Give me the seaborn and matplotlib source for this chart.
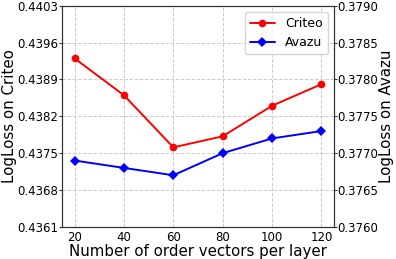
import matplotlib
matplotlib.use('Agg')
import matplotlib.pyplot as plt
import seaborn as sns
import pandas as pd

# data
num_vectors = [20, 40, 60, 80, 100, 120]
criteo_logloss = [0.4393, 0.4386, 0.43761, 0.43782, 0.4384, 0.43881]
avazu_logloss = [0.3769, 0.3768, 0.3767, 0.3770, 0.3772, 0.3773]

left_ticks = [0.4361, 0.4368, 0.4375, 0.4382, 0.4389, 0.4396, 0.4403]
right_ticks = [0.3760, 0.3765, 0.3770, 0.3775, 0.3780, 0.3785, 0.3790]

df = pd.DataFrame({'n': num_vectors, 'criteo': criteo_logloss, 'avazu': avazu_logloss})

sns.set_style('white')
plt.rcParams['font.family'] = 'DejaVu Sans'
plt.rcParams['text.color'] = 'black'
plt.rcParams['axes.labelcolor'] = 'black'
plt.rcParams['xtick.color'] = 'black'
plt.rcParams['ytick.color'] = 'black'

fig, ax = plt.subplots(figsize=(3.96, 2.59), dpi=100)
fig.subplots_adjust(left=0.157, right=0.843, top=0.978, bottom=0.124)
ax2 = ax.twinx()

sns.lineplot(data=df, x='n', y='criteo', ax=ax, color='red', marker='o',
             markersize=5.5, markeredgewidth=0, linewidth=1.4, label='Criteo', legend=False)
sns.lineplot(data=df, x='n', y='avazu', ax=ax2, color='blue', marker='D',
             markersize=5.5, markeredgewidth=0, linewidth=1.4, label='Avazu', legend=False)

ax.set_ylim(left_ticks[0], left_ticks[-1])
ax.set_yticks(left_ticks)
ax.set_yticklabels([f'{t:.4f}' for t in left_ticks])
ax2.set_ylim(right_ticks[0], right_ticks[-1])
ax2.set_yticks(right_ticks)
ax2.set_yticklabels([f'{t:.4f}' for t in right_ticks])
ax.set_xticks(num_vectors)

ax.grid(True, linestyle='--', color='#cccccc', linewidth=0.7)
ax.tick_params(labelsize=8.5, length=2, pad=0.8, color='#333333')
ax2.tick_params(labelsize=8.5, length=2, pad=0.8, color='#333333')

ax.set_xlabel('Number of order vectors per layer', fontsize=10.8, labelpad=0)
ax.set_ylabel('LogLoss on Criteo', fontsize=10.8, labelpad=0)
ax2.set_ylabel('LogLoss on Avazu', fontsize=10.8, labelpad=0)

for a in (ax, ax2):
    for s in a.spines.values():
        s.set_color('#333333')
        s.set_linewidth(0.8)

h1, l1 = ax.get_legend_handles_labels()
h2, l2 = ax2.get_legend_handles_labels()
ax2.legend(h1 + h2, l1 + l2, loc='upper right', fontsize=9, frameon=True,
           borderaxespad=0.5, handlelength=2.0)

plt.savefig('out.png', dpi=100)
